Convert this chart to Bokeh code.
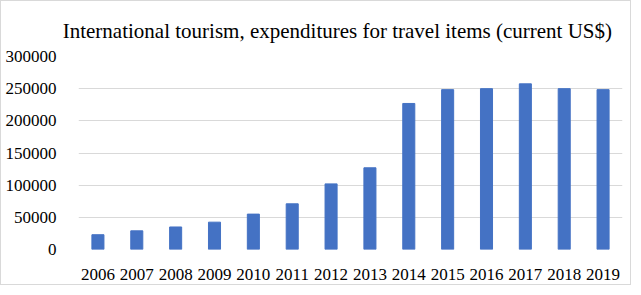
from bokeh.plotting import figure
from bokeh.embed import file_html
from bokeh.resources import INLINE
from bokeh.models import ColumnDataSource, SingleIntervalTicker, NumeralTickFormatter

years = ["2006", "2007", "2008", "2009", "2010", "2011", "2012", "2013",
         "2014", "2015", "2016", "2017", "2018", "2019"]
expenditures = [23000, 29000, 35000, 42500, 55000, 71000, 102000, 127000,
                227000, 248500, 250000, 257500, 250000, 248500]

source = ColumnDataSource(data=dict(years=years, values=expenditures))

p = figure(x_range=years, y_range=(0, 300000), width=631, height=285,
           output_backend="svg", toolbar_location=None,
           title="International  tourism,  expenditures  for travel  items  (current US$)")
p.styles = {"border": "1px solid #d9d9d9"}

p.vbar(x="years", top="values", width=0.31, source=source, color="#4472c4")

p.min_border_left = 77
p.min_border_right = 10
p.min_border_top = 55
p.min_border_bottom = 37

p.title.text_font = "Liberation Serif"
p.title.text_font_size = "21px"
p.title.text_font_style = "normal"
p.title.text_color = "#000000"
p.title.align = "center"
p.title.offset = 0
p.title.standoff = 28

p.x_range.range_padding = 0
p.outline_line_color = None
p.xgrid.grid_line_color = None
p.ygrid.grid_line_color = "#d9d9d9"
p.ygrid.grid_line_width = 1

p.yaxis.ticker = SingleIntervalTicker(interval=50000)
p.yaxis.formatter = NumeralTickFormatter(format="0")
for ax in (p.xaxis, p.yaxis):
    ax.axis_line_color = None
    ax.major_tick_line_color = None
    ax.minor_tick_line_color = None
    ax.major_label_text_font = "Liberation Serif"
    ax.major_label_text_font_size = "17px"
    ax.major_label_text_color = "#000000"
p.yaxis.major_label_standoff = 16
p.xaxis.major_label_standoff = 13

open("out.html", "w").write(file_html(p, INLINE))
